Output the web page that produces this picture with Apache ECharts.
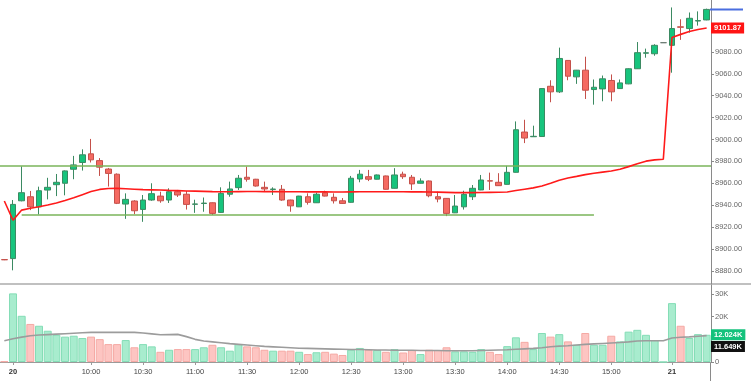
<!DOCTYPE html>
<html><head><meta charset="utf-8">
<script src="https://cdn.jsdelivr.net/npm/echarts@6/dist/echarts.min.js"></script>
<style>html,body{margin:0;padding:0;background:#fff}#c{width:751px;height:381px}</style>
</head><body><div id="c"></div>
<script>
// ---------- categories ----------
const times = ['19 15:30',
'20 09:15','20 09:20','20 09:25','20 09:30','20 09:35','20 09:40','20 09:45','20 09:50','20 09:55',
'20 10:00','20 10:05','20 10:10','20 10:15','20 10:20','20 10:25','20 10:30','20 10:35','20 10:40','20 10:45','20 10:50','20 10:55',
'20 11:00','20 11:05','20 11:10','20 11:15','20 11:20','20 11:25','20 11:30','20 11:35','20 11:40','20 11:45','20 11:50','20 11:55',
'20 12:00','20 12:05','20 12:10','20 12:15','20 12:20','20 12:25','20 12:30','20 12:35','20 12:40','20 12:45','20 12:50','20 12:55',
'20 13:00','20 13:05','20 13:10','20 13:15','20 13:20','20 13:25','20 13:30','20 13:35','20 13:40','20 13:45','20 13:50','20 13:55',
'20 14:00','20 14:05','20 14:10','20 14:15','20 14:20','20 14:25','20 14:30','20 14:35','20 14:40','20 14:45','20 14:50','20 14:55',
'20 15:00','20 15:05','20 15:10','20 15:15','20 15:20','20 15:25','20 15:30',
'21 09:15','21 09:20','21 09:25','21 09:30','21 09:35'];

// ---------- tick labels ----------
const tickCats = ['20 09:15','20 10:00','20 10:30','20 11:00','20 11:30','20 12:00','20 12:30','20 13:00','20 13:30','20 14:00','20 14:30','20 15:00','21 09:15'];
const tickText = ['20','10:00','10:30','11:00','11:30','12:00','12:30','13:00','13:30','14:00','14:30','15:00','21'];
const boldTicks = ['20','21'];
const priceTicks = [8880,8900,8920,8940,8960,8980,9000,9020,9040,9060,9080];
const volumeTicks = [0, 10000, 20000, 30000];
const volumeTickText = ['0', '', '20K', '30K'];

// ---------- OHLC ----------
const open = [8890.3,8891.2,8944.0,8947.7,8938.5,8953.8,8958.7,8960.0,8972.8,8979.0,
8986.9,8980.7,8973.0,8968.3,8941.0,8943.8,8936.1,8944.7,8948.3,8944.7,
8952.3,8950.0,8940.8,8941.5,8942.2,8933.4,8950.0,8956.0,8965.5,8963.7,
8956.3,8954.4,8954.5,8944.7,8938.5,8947.7,8942.2,8951.4,8947.2,8944.0,
8942.6,8963.9,8966.0,8963.7,8966.7,8955.4,8968.3,8965.5,8960.0,8962.1,
8947.7,8946.2,8933.0,8938.5,8947.7,8953.9,8962.3,8960.9,8959.0,8970.0,
9006.8,9002.5,9002.7,9048.6,9043.5,9072.2,9057.2,9063.3,9045.6,9046.2,
9053.9,9046.5,9050.8,9064.6,9078.8,9078.3,9088.4,9086.0,9102.9,9101.3,
9108.2,9109.2];
const close = [8890.1,8940.7,8951.4,8938.5,8953.2,8956.3,8960.9,8971.3,8976.8,8986.0,
8981.4,8974.7,8969.0,8941.7,8945.3,8934.9,8944.7,8950.5,8944.0,8952.3,
8949.3,8940.7,8941.1,8941.9,8932.5,8950.8,8954.8,8964.6,8963.7,8957.5,
8954.8,8954.7,8944.7,8939.4,8948.3,8942.6,8950.0,8948.3,8944.0,8941.6,
8964.6,8968.3,8963.7,8967.6,8954.5,8967.6,8966.0,8959.4,8962.1,8948.6,
8945.6,8932.5,8939.2,8949.9,8955.4,8963.0,8962.0,8957.8,8970.0,9008.9,
9001.3,9002.9,9046.5,9043.5,9074.0,9057.8,9063.3,9045.0,9047.7,9055.4,
9043.5,9051.7,9064.6,9079.3,9079.2,9086.0,9088.4,9101.3,9102.5,9110.7,
9108.6,9118.8];
const low = [8889.8,8880.5,8943.5,8935.5,8931.5,8945.3,8948.3,8949.0,8963.7,8971.6,
8979.0,8966.7,8957.0,8941.0,8927.5,8931.8,8924.8,8944.0,8942.2,8942.0,
8947.5,8936.0,8933.0,8934.0,8931.0,8933.0,8947.7,8953.9,8961.5,8957.0,
8952.3,8949.3,8944.0,8934.0,8938.3,8940.5,8942.0,8948.0,8941.5,8941.3,
8942.3,8960.9,8962.0,8963.5,8954.3,8955.2,8964.0,8953.9,8959.8,8947.2,
8942.6,8930.0,8932.8,8936.0,8944.7,8953.7,8953.9,8957.5,8958.8,8969.8,
8996.7,9002.3,9002.5,9034.0,9042.5,9054.1,9050.8,9037.0,9031.8,9034.9,
9034.9,9046.3,9050.5,9064.4,9074.7,9076.5,9088.4,9061.0,9091.0,9097.6,
9104.0,9108.9];
const high = [8890.6,8944.7,8975.5,8953.0,8956.9,8965.0,8968.5,8971.8,8985.0,8991.0,
9000.5,8983.0,8974.0,8969.0,8950.8,8944.5,8949.3,8960.0,8952.3,8955.4,
8953.9,8953.0,8945.0,8947.0,8942.5,8956.3,8961.5,8967.6,8975.2,8964.0,
8961.5,8956.3,8958.4,8945.0,8948.5,8950.8,8951.5,8953.2,8950.8,8946.5,
8966.7,8972.2,8972.2,8968.0,8967.0,8973.8,8970.6,8967.6,8964.5,8962.5,
8952.3,8946.5,8949.3,8953.2,8958.4,8967.6,8969.7,8969.2,8975.9,9016.5,
9018.0,9012.6,9046.8,9054.1,9083.9,9072.5,9063.5,9075.6,9054.8,9058.4,
9059.4,9054.8,9065.0,9089.0,9083.0,9087.0,9088.4,9120.6,9109.8,9116.0,
9117.0,9119.5];

// ---------- VWAP (red line) ----------
const vwap = [8943.8,8926.2,8935.5,8937.2,8938.6,8940.2,8942.0,8944.3,8946.8,8949.6,
8952.4,8954.4,8955.2,8955.3,8955.0,8954.6,8954.2,8954.0,8953.8,8953.5,
8953.3,8953.0,8952.8,8952.6,8952.4,8952.3,8952.3,8952.4,8952.5,8952.5,
8952.4,8952.4,8952.3,8952.2,8952.2,8952.1,8952.1,8952.1,8952.0,8952.0,
8952.1,8952.2,8952.2,8952.3,8952.2,8952.2,8952.2,8952.1,8952.1,8952.0,
8951.9,8951.7,8951.5,8951.5,8951.5,8951.6,8951.7,8951.8,8952.1,8953.4,
8954.6,8955.8,8957.5,8960.0,8962.8,8964.8,8966.3,8967.9,8969.1,8970.2,
8971.2,8972.8,8975.2,8977.8,8980.2,8981.4,8981.9,9093.2,9096.0,9098.6,
9100.5,9101.87];

// ---------- volume ----------
const volume = [300,30300,20400,16800,16000,13800,12000,11200,11600,10600,
11200,10100,7900,7900,9700,6500,7900,6900,4500,5400,
5700,5700,5700,6500,7600,6500,5000,7900,6900,6500,
5400,5000,5000,5000,4500,3500,4300,4500,3700,3100,
5400,6200,5400,5300,4500,5700,4200,5300,3500,5400,
5300,6500,4700,4700,4500,5700,4500,3500,7000,10900,
8900,5700,12800,11200,12300,9100,7600,12800,7600,7600,
11600,9100,13400,14200,12000,9700,0,26000,16000,10600,
12300,12024];
const volumeMA = [9400,10300,11000,11600,11900,12100,12300,12500,12700,12900,
13100,13100,13100,13100,13100,13100,12800,12400,12000,12100,
12200,11200,10000,9300,8900,8500,8100,7800,7500,7200,
6900,6700,6500,6300,6100,6000,5900,5800,5700,5600,
5500,5500,5400,5300,5300,5200,5200,5200,5100,5100,
5100,5000,5000,5000,5000,5100,5200,5300,5400,5600,
5800,6000,6300,6700,7000,7200,7500,7800,8000,8200,
8400,8600,8900,9300,9400,9400,9400,10600,10900,11100,
11400,11649];

// ---------- levels ----------
const levelHigh = 8975.6;
const levelLow = 8931.6;
const levelLowStart = '20 09:20';
const levelLowEnd = '20 14:50';

// ---------- build ----------
const FONT = 'Liberation Sans, Arial, sans-serif';
const FS = 7.5;
const GRID_L = -3.8, GRID_R = 40, RIGHT_X = 711;
const candleData = times.map((t, i) => [open[i], close[i], low[i], high[i]]);
const volData = volume.map((v, i) => ({
  value: v,
  itemStyle: close[i] >= open[i]
    ? { color: '#a8ecce', borderColor: '#84ddb6', borderWidth: 1 }
    : { color: '#fdc5c2', borderColor: '#f5a9a4', borderWidth: 1 }
}));
const tickSet = new Set(tickCats);
const tickInterval = (idx, val) => tickSet.has(val);
const last = times.length - 1;

const chart = echarts.init(document.getElementById('c'), null, { renderer: 'canvas' });
chart.setOption({
  animation: false,
  backgroundColor: '#ffffff',
  textStyle: { fontFamily: FONT },
  grid: [
    { left: GRID_L, right: GRID_R, top: 0, height: 284 },
    { left: GRID_L, right: GRID_R, top: 285, height: 77 }
  ],
  xAxis: [
    { type: 'category', gridIndex: 0, data: times, axisLine: { show: false }, axisTick: { show: false }, axisLabel: { show: false }, splitLine: { show: false } },
    { type: 'category', gridIndex: 1, data: times,
      axisLine: { show: true, lineStyle: { color: '#9a9a9a', width: 1 } },
      axisTick: { show: true, interval: tickInterval, alignWithLabel: true, length: 3, lineStyle: { color: '#9a9a9a' } },
      axisLabel: { show: true, interval: tickInterval, margin: 6, fontSize: FS, color: '#444', fontFamily: FONT,
        formatter: v => { const t = tickText[tickCats.indexOf(v)]; return t === undefined ? '' : (boldTicks.includes(t) ? '{b|' + t + '}' : t); },
        rich: { b: { fontWeight: 'bold', fontSize: FS, color: '#333', fontFamily: FONT } } },
      splitLine: { show: false } }
  ],
  yAxis: [
    { type: 'value', gridIndex: 0, position: 'right', min: 8868, max: 9127.4,
      splitLine: { show: false },
      axisLine: { show: true, lineStyle: { color: '#8a8a8a' } },
      axisTick: { show: true, length: 3, customValues: priceTicks, lineStyle: { color: '#8a8a8a' } },
      axisLabel: { show: true, customValues: priceTicks, margin: 4, fontSize: FS, color: '#666', fontFamily: FONT, formatter: v => Number(v).toFixed(2) } },
    { type: 'value', gridIndex: 1, position: 'right', min: 0, max: 34000,
      splitLine: { show: false },
      axisLine: { show: true, lineStyle: { color: '#8a8a8a' } },
      axisTick: { show: true, length: 3, customValues: volumeTicks, lineStyle: { color: '#8a8a8a' } },
      axisLabel: { show: true, customValues: volumeTicks, margin: 4, fontSize: FS, color: '#666', fontFamily: FONT,
        formatter: v => { const k = volumeTicks.indexOf(Number(v)); return k < 0 ? '' : volumeTickText[k]; } } }
  ],
  series: [
    { type: 'candlestick', xAxisIndex: 0, yAxisIndex: 0, data: candleData, barWidth: 6,
      itemStyle: { color: '#17c47d', color0: '#f56a62', borderColor: '#3b8a62', borderColor0: '#c4504a', borderColorDoji: '#6b7b73', borderWidth: 1 },
      markLine: { silent: true, symbol: ['none', 'none'], label: { show: false },
        lineStyle: { color: '#7ab45a', width: 1.5, type: 'solid' },
        data: [ { yAxis: levelHigh }, [ { coord: [levelLowStart, levelLow] }, { coord: [levelLowEnd, levelLow] } ] ] } },
    { type: 'line', xAxisIndex: 0, yAxisIndex: 0, data: vwap, symbol: 'none', z: 5,
      lineStyle: { color: '#ff1a1a', width: 1.6 } },
    { type: 'bar', xAxisIndex: 1, yAxisIndex: 1, data: volData, barCategoryGap: '8%' },
    { type: 'line', xAxisIndex: 1, yAxisIndex: 1, data: volumeMA, symbol: 'none', z: 4,
      lineStyle: { color: '#9c9c9c', width: 1.6 } }
  ]
});

// value tags placed from the library's own scales
const yLast = chart.convertToPixel({ yAxisIndex: 0 }, close[last]);
const yVwap = chart.convertToPixel({ yAxisIndex: 0 }, vwap[last]);
const yVol = chart.convertToPixel({ yAxisIndex: 1 }, volume[last]);
const yMA = chart.convertToPixel({ yAxisIndex: 1 }, volumeMA[last]);
const tag = (text, y, bg) => ({ type: 'text', silent: true, z: 100, x: RIGHT_X, y: y,
  style: { text: text, fill: '#fff', backgroundColor: bg, padding: [2, 3, 1, 3],
    font: 'bold ' + FS + 'px ' + FONT, verticalAlign: 'middle', align: 'left' } });
chart.setOption({
  graphic: [
    { type: 'line', silent: true, shape: { x1: 0, y1: 284, x2: 751, y2: 284 }, style: { stroke: '#ababab', lineWidth: 1.5 } },
    { type: 'line', silent: true, shape: { x1: RIGHT_X - 0.5, y1: 362, x2: RIGHT_X - 0.5, y2: 381 }, style: { stroke: '#8a8a8a', lineWidth: 1 } },
    { type: 'rect', silent: true, z: 100, shape: { x: RIGHT_X - 1, y: yLast - 1, width: 33, height: 2 }, style: { fill: '#4a6ee0' } },
    tag(vwap[last].toFixed(2), yVwap, '#ff1414'),
    tag((volume[last] / 1000).toFixed(3) + 'K', yVol, '#14c27c'),
    tag((volumeMA[last] / 1000).toFixed(3) + 'K', yMA + 11, '#111111')
  ]
});
</script>
</body></html>
